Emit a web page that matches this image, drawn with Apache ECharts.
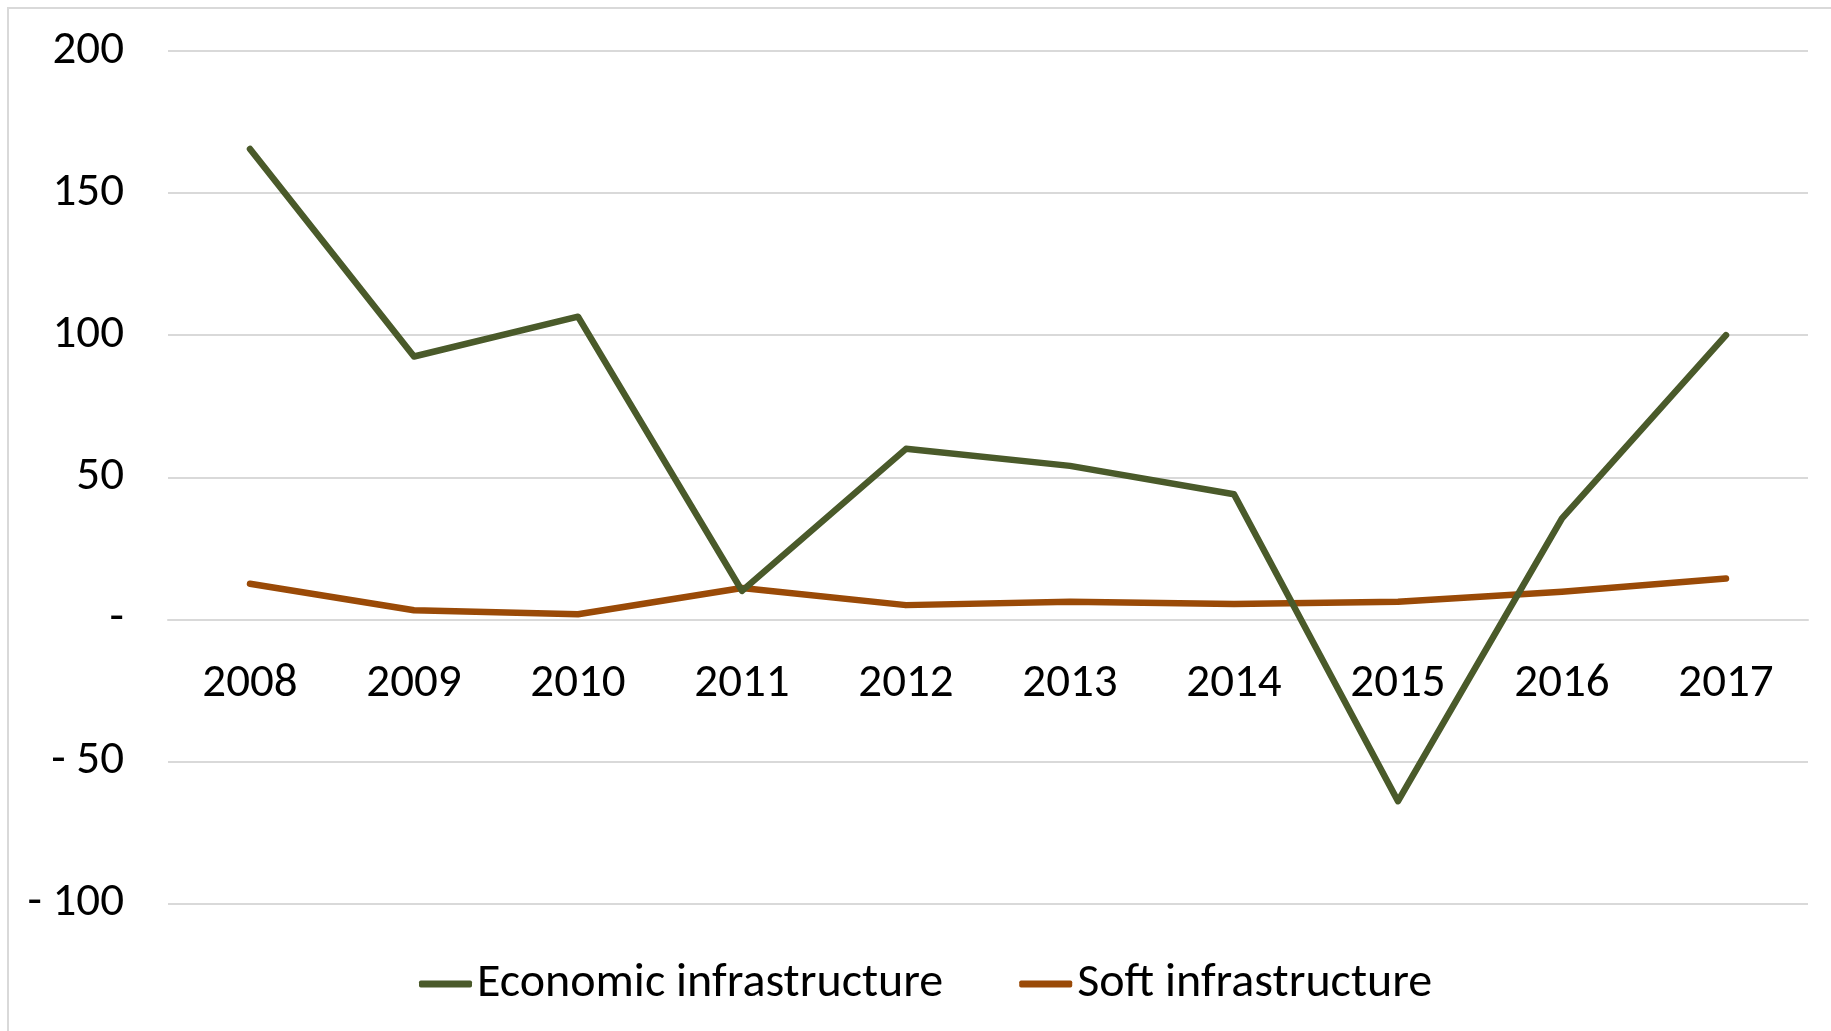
<!DOCTYPE html>
<html>
<head>
<meta charset="utf-8">
<script src="https://cdn.jsdelivr.net/npm/echarts@6/dist/echarts.min.js"></script>
<style>
html,body{margin:0;padding:0;background:#fff;}
#chart{width:1831px;height:1031px;}
</style>
</head>
<body>
<div id="chart"></div>
<script>
const years = ['2008','2009','2010','2011','2012','2013','2014','2015','2016','2017'];
const economicInfrastructure = [165.5, 92.5, 106.5, 10, 60, 54, 44, -64, 35.5, 100];
const softInfrastructure = [12.5, 3.2, 1.8, 11, 5, 6.2, 5.4, 6.2, 9.7, 14.4];
const seriesNames = ['Economic infrastructure', 'Soft infrastructure'];
const seriesColors = ['#4a5a2a', '#9a4a07'];
const yMin = -100, yMax = 200, yStep = 50;

const FONT = 'Carlito, Lato, sans-serif';
const chart = echarts.init(document.getElementById('chart'), null, {renderer: 'canvas'});

const gridTop = 51, gridBottom = 127.5, H = 1031;
const plotH = H - gridTop - gridBottom;
// distance from bottom of plot to the zero line
const zeroOffset = plotH * (0 - yMin) / (yMax - yMin);

function fmt(v) {
  if (v === 0) return '-';
  if (v < 0) return '- ' + Math.abs(v);
  return String(v);
}

chart.setOption({
  animation: false,
  backgroundColor: '#ffffff',
  graphic: [{
    type: 'rect',
    shape: {x: 8, y: 8, width: 3000, height: 3000},
    style: {fill: 'none', stroke: '#d9d9d9', lineWidth: 2},
    silent: true,
    z: -10
  }],
  grid: {left: 168, right: 23, top: gridTop, bottom: gridBottom, containLabel: false},
  legend: {
    data: seriesNames,
    left: 414,
    top: 953,
    itemWidth: 53,
    itemHeight: 7,
    itemGap: 76,
    icon: 'roundRect',
    textStyle: {fontFamily: FONT, fontSize: 48, color: '#000', lineHeight: 52}
  },
  xAxis: {
    type: 'category',
    data: years,
    boundaryGap: true,
    offset: -zeroOffset,
    axisLine: {show: true, onZero: false, lineStyle: {color: '#d9d9d9', width: 2}},
    axisTick: {show: false},
    splitLine: {show: false},
    axisLabel: {fontFamily: FONT, fontSize: 47, color: '#000', margin: 41, lineHeight: 47}
  },
  yAxis: {
    type: 'value',
    min: yMin,
    max: yMax,
    interval: yStep,
    axisLine: {show: false},
    axisTick: {show: false},
    splitLine: {show: true, lineStyle: {color: '#d9d9d9', width: 2}},
    axisLabel: {fontFamily: FONT, fontSize: 47, color: '#000', margin: 44, formatter: fmt}
  },
  series: [
    {
      name: seriesNames[0],
      type: 'line',
      data: economicInfrastructure,
      symbol: 'none',
      color: seriesColors[0],
      lineStyle: {color: seriesColors[0], width: 6.5, cap: 'round', join: 'round'},
      z: 3
    },
    {
      name: seriesNames[1],
      type: 'line',
      data: softInfrastructure,
      symbol: 'none',
      color: seriesColors[1],
      lineStyle: {color: seriesColors[1], width: 6.5, cap: 'round', join: 'round'},
      z: 2
    }
  ]
});
</script>
</body>
</html>
